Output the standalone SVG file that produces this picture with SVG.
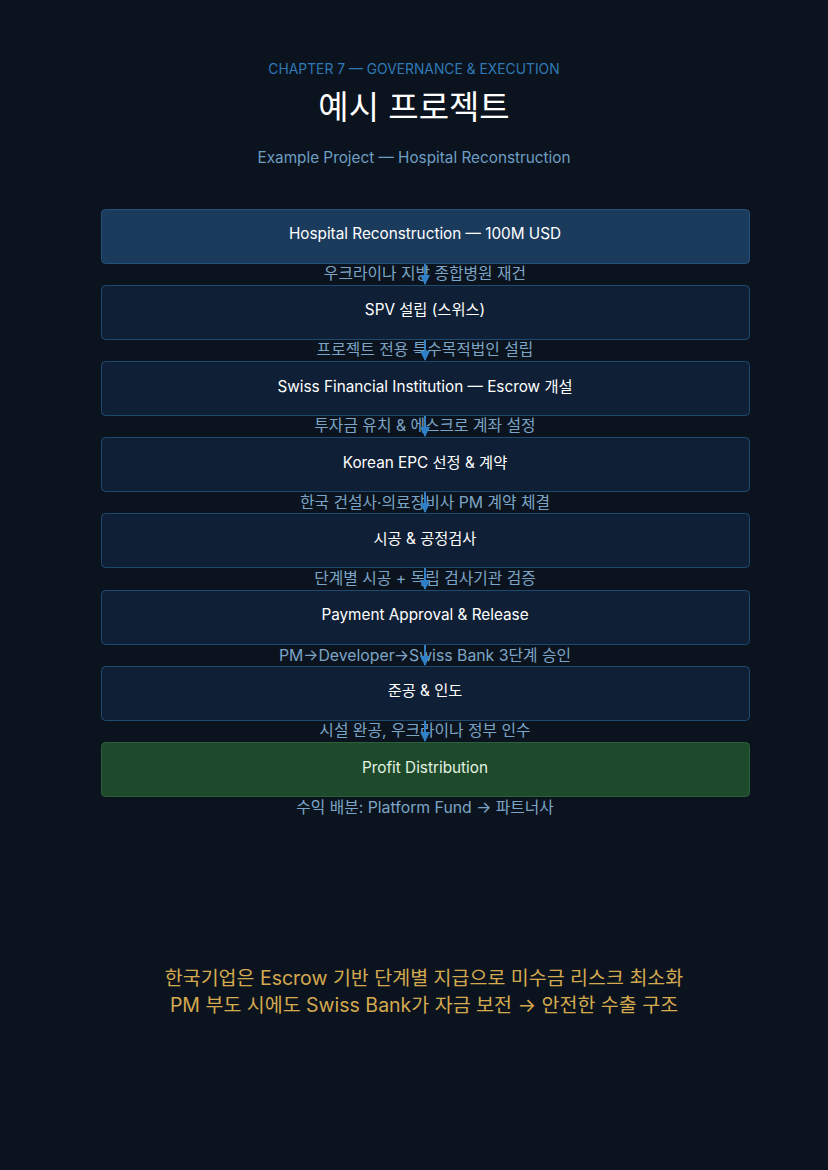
<svg xmlns="http://www.w3.org/2000/svg" width="828" height="1170" viewBox="0 0 828 1170">
<defs>
<style>
text{font-family:Inter,"Noto Sans","Noto Sans CJK KR",sans-serif;text-anchor:middle}
.box{fill:#0f1f35;stroke:#1f4a70;stroke-width:1}
.top{fill:#1b3b5d;stroke:#25527a}
.green{fill:#1e4a2b;stroke:#2b5f3c}
.bt{fill:#ffffff;font-size:15.3px}
.gt{fill:#e2f3e2;font-size:15.3px}
.sub{fill:#7ca4c6;font-size:15.8px}
.arr{stroke:#2f80c6;stroke-width:2;fill:none}
</style>
<marker id="ah" viewBox="0 0 10 10" refX="9" refY="5" markerWidth="5" markerHeight="5" orient="auto">
<path d="M0,0 L10,5 L0,10 z" fill="#2f80c6"/>
</marker>
</defs>
<rect width="828" height="1170" fill="#0b141e"/>
<text x="414" y="74" font-size="13.85" fill="#2f79b6">CHAPTER 7 — GOVERNANCE &amp; EXECUTION</text>
<text x="414" y="119" font-size="33" fill="#ffffff">예시 프로젝트</text>
<text x="414" y="163" font-size="15.3" fill="#6e9ec4">Example Project — Hospital Reconstruction</text>

<g id="n1"><rect class="box top" x="101.5" y="209.5" width="648" height="54" rx="4"/><text class="bt" x="425" y="239">Hospital Reconstruction — 100M USD</text></g>
<g id="n2"><rect class="box" x="101.5" y="285.5" width="648" height="54" rx="4"/><text class="bt" x="425" y="315">SPV 설립 (스위스)</text></g>
<g id="n3"><rect class="box" x="101.5" y="361.5" width="648" height="54" rx="4"/><text class="bt" x="425" y="392">Swiss Financial Institution — Escrow 개설</text></g>
<g id="n4"><rect class="box" x="101.5" y="437.5" width="648" height="54" rx="4"/><text class="bt" x="425" y="468">Korean EPC 선정 &amp; 계약</text></g>
<g id="n5"><rect class="box" x="101.5" y="513.5" width="648" height="54" rx="4"/><text class="bt" x="425" y="544">시공 &amp; 공정검사</text></g>
<g id="n6"><rect class="box" x="101.5" y="590.5" width="648" height="54" rx="4"/><text class="bt" x="425" y="620">Payment Approval &amp; Release</text></g>
<g id="n7"><rect class="box" x="101.5" y="666.5" width="648" height="54" rx="4"/><text class="bt" x="425" y="696">준공 &amp; 인도</text></g>
<g id="n8"><rect class="box green" x="101.5" y="742.5" width="648" height="54" rx="4"/><text class="gt" x="425" y="773">Profit Distribution</text></g>

<g id="labels">
<text class="sub" x="425" y="279">우크라이나 지방 종합병원 재건</text>
<text class="sub" x="425" y="355">프로젝트 전용 특수목적법인 설립</text>
<text class="sub" x="425" y="431">투자금 유치 &amp; 에스크로 계좌 설정</text>
<text class="sub" x="425" y="508">한국 건설사·의료장비사 PM 계약 체결</text>
<text class="sub" x="425" y="584">단계별 시공 + 독립 검사기관 검증</text>
<text class="sub" x="425" y="661">PM→Developer→Swiss Bank 3단계 승인</text>
<text class="sub" x="425" y="736">시설 완공, 우크라이나 정부 인수</text>
<text class="sub" x="425" y="813">수익 배분: Platform Fund → 파트너사</text>
</g>

<g id="connectors">
<line class="arr" x1="425" y1="264" x2="425" y2="284" marker-end="url(#ah)"/>
<line class="arr" x1="425" y1="340" x2="425" y2="360" marker-end="url(#ah)"/>
<line class="arr" x1="425" y1="416" x2="425" y2="436" marker-end="url(#ah)"/>
<line class="arr" x1="425" y1="492" x2="425" y2="512" marker-end="url(#ah)"/>
<line class="arr" x1="425" y1="568" x2="425" y2="589" marker-end="url(#ah)"/>
<line class="arr" x1="425" y1="645" x2="425" y2="665" marker-end="url(#ah)"/>
<line class="arr" x1="425" y1="721" x2="425" y2="741" marker-end="url(#ah)"/>
</g>

<text x="424" y="985" font-size="19.5" fill="#d4a94f">한국기업은 Escrow 기반 단계별 지급으로 미수금 리스크 최소화</text>
<text x="424" y="1012" font-size="19.5" fill="#d4a94f">PM 부도 시에도 Swiss Bank가 자금 보전 → 안전한 수출 구조</text>
</svg>
